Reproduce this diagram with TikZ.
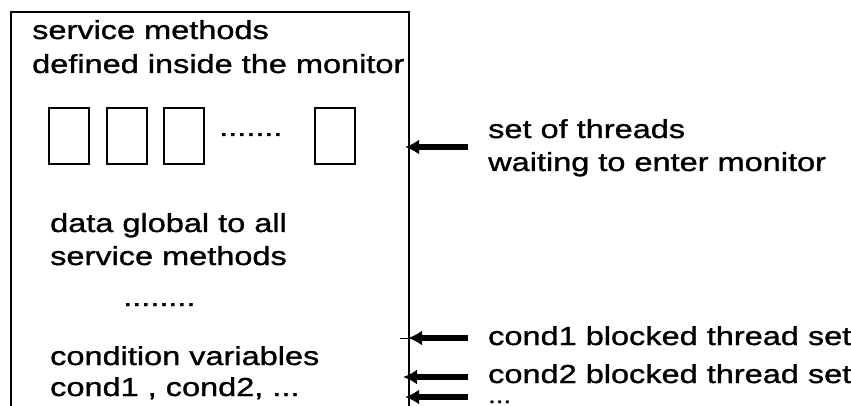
\documentclass[tikz,border=0pt]{standalone}
\usepackage{fontspec}
\newfontfamily\lbf[FakeStretch=1.25,FakeBold=1.2]{Liberation Sans}
\usetikzlibrary{arrows.meta}
\begin{document}
\begin{tikzpicture}[x=1pt,y=-1pt,
  lbl/.style={anchor=base west,inner sep=0pt,font=\lbf\fontsize{26}{26}\selectfont},
  mbox/.style={draw,line width=2pt,minimum width=40pt,minimum height=56pt,inner sep=0pt,anchor=north west},
  arr/.style={line width=6pt,-{Latex[length=14pt,width=15pt]}},
  frame/.style={line width=1.6pt}]
\useasboundingbox (0,0) rectangle (851,406);
% monitor frame (open at the bottom)
\coordinate (fbl) at (11,406);
\coordinate (ftl) at (11,12);
\coordinate (ftr) at (409,12);
\coordinate (fbr) at (409,406);
\draw[frame] (fbl) -- (ftl) -- (ftr) -- (fbr);
% texts inside
\node[lbl] (t1) at (32,39) {service methods};
\node[lbl] (t2) at (32,73) {defined inside the monitor};
\node[mbox] (b1) at (48,107) {};
\node[mbox] (b2) at (106,107) {};
\node[mbox] (b3) at (163,107) {};
\node[mbox] (b4) at (314,107) {};
\node[lbl] (d1) at (219,136) {.......};
\node[lbl] (t3) at (50,232) {data global to all};
\node[lbl] (t4) at (50,265) {service methods};
\node[lbl] (d2) at (123,306) {........};
\node[lbl] (t5) at (50,365) {condition variables};
\node[lbl] (t6) at (50,396) {cond1 , cond2, ...};
% right side
\node[lbl] (r1) at (488,138) {set of threads};
\node[lbl] (r2) at (488,171) {waiting to enter monitor};
\node[lbl] (r3) at (488,345) {cond1 blocked thread set};
\node[lbl] (r4) at (488,383) {cond2 blocked thread set};
\node[lbl,font=\lbf\fontsize{22}{22}\selectfont,text height=3pt,text depth=0pt] (r5) at (488,403) {...};
\coordinate (a1s) at (468,147); \coordinate (a1e) at (405,147);
\coordinate (a2s) at (468,338); \coordinate (a2e) at (408,338);
\coordinate (a3s) at (468,377); \coordinate (a3e) at (403,377);
\coordinate (a4s) at (468,397); \coordinate (a4e) at (405,397);
\coordinate (st1) at (400,338);
\draw[arr] (a1s) -- (a1e);
\draw[arr] (a2s) -- (a2e);
\draw[line width=1pt] (a2e) -- (st1);
\draw[arr] (a3s) -- (a3e);
\draw[arr] (a4s) -- (a4e);
\end{tikzpicture}
\end{document}
